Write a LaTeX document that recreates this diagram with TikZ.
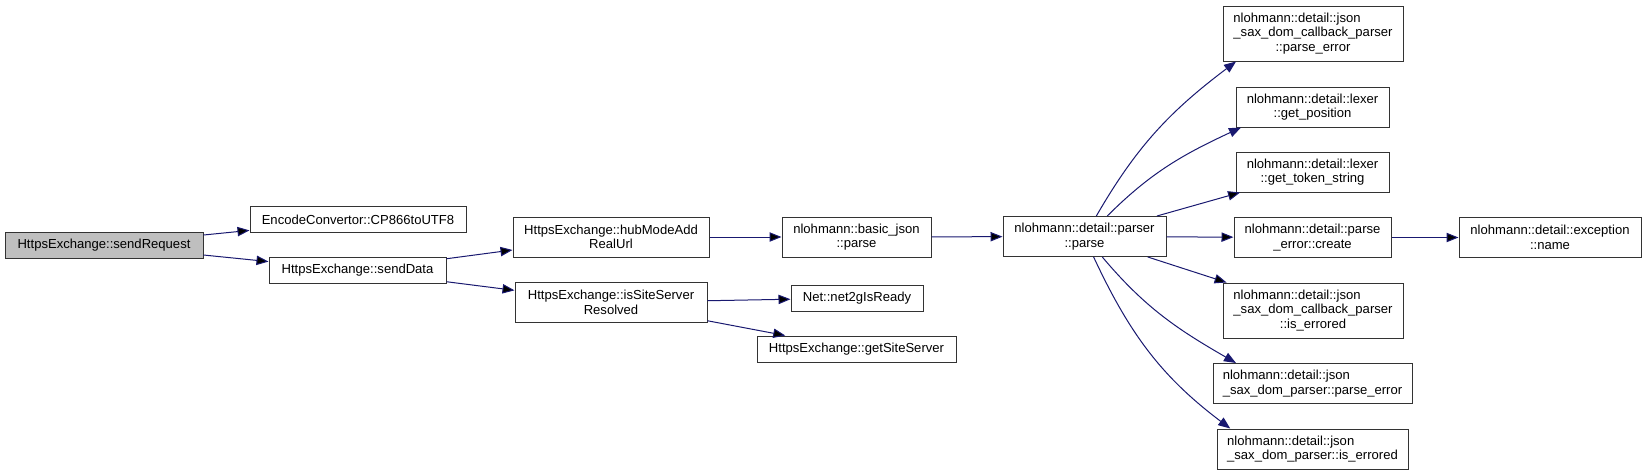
\documentclass[tikz,border=0pt]{standalone}
\usepackage{fontspec}
\setmainfont{Liberation Sans}
\usepackage{calc}
\usepackage{tikz}
\usetikzlibrary{arrows.meta}

\definecolor{callblue}{HTML}{191970}
\definecolor{rootgray}{HTML}{BFBFBF}
\newcommand{\lline}[2]{\makebox[\widthof{#2}][l]{#1}}

\begin{document}
\begin{tikzpicture}[x=0.75pt, y=0.75pt,
  fn/.style={draw=black!80, line width=0.75pt, rectangle, inner sep=0pt, align=center,
             font=\fontsize{9.8pt}{10.9pt}\selectfont},
  boxsize/.style 2 args={minimum width=#1*0.75pt, minimum height=#2*0.75pt},
  call/.style={draw=callblue, line width=0.75pt, -{Triangle[length=9pt, width=7pt]}}]

\useasboundingbox (0,0) rectangle (1647,-475);

\node [fn, boxsize={198}{26}, fill=rootgray] at (104,-245)      (req)         {HttpsExchange::sendRequest};
\node [fn, boxsize={216}{26}             ] at (358,-219.5)    (cp866)       {EncodeConvertor::CP866toUTF8};
\node [fn, boxsize={177}{26}             ] at (357.5,-270.5)  (senddata)    {HttpsExchange::sendData};
\node [fn, boxsize={196}{40}             ] at (611,-237)      (hubmode)     {HttpsExchange::hubModeAdd\\RealUrl};
\node [fn, boxsize={192}{40}             ] at (611,-302.5)    (siteres)     {HttpsExchange::isSiteServer\\Resolved};
\node [fn, boxsize={149}{40}             ] at (856.5,-237)    (jsonparse)   {nlohmann::basic\_json\\::parse};
\node [fn, boxsize={132}{26}             ] at (857,-298)      (net2g)       {Net::net2gIsReady};
\node [fn, boxsize={199}{26}             ] at (856.5,-349)    (getsite)     {HttpsExchange::getSiteServer};
\node [fn, boxsize={163}{40}             ] at (1084.5,-236.5) (parserparse) {nlohmann::detail::parser\\::parse};
\node [fn, boxsize={180}{55}             ] at (1313,-33.5)    (cbparseerr)  {\lline{nlohmann::detail::json}{\_sax\_dom\_callback\_parser}\\\_sax\_dom\_callback\_parser\\::parse\_error};
\node [fn, boxsize={153}{40}             ] at (1312.5,-107)   (getpos)      {nlohmann::detail::lexer\\::get\_position};
\node [fn, boxsize={153}{40}             ] at (1312.5,-172)   (gettoken)    {nlohmann::detail::lexer\\::get\_token\_string};
\node [fn, boxsize={157}{40}             ] at (1312.5,-237.5) (errcreate)   {nlohmann::detail::parse\\\_error::create};
\node [fn, boxsize={180}{55}             ] at (1313,-310.5)   (cberrored)   {\lline{nlohmann::detail::json}{\_sax\_dom\_callback\_parser}\\\_sax\_dom\_callback\_parser\\::is\_errored};
\node [fn, boxsize={199}{40}             ] at (1312.5,-383.5) (saxparseerr) {\lline{nlohmann::detail::json}{\_sax\_dom\_parser::parse\_error}\\\_sax\_dom\_parser::parse\_error};
\node [fn, boxsize={191}{40}             ] at (1312.5,-449)   (saxerrored)  {\lline{nlohmann::detail::json}{\_sax\_dom\_parser::is\_errored}\\\_sax\_dom\_parser::is\_errored};
\node [fn, boxsize={182}{40}             ] at (1550,-237.5)   (excname)     {nlohmann::detail::exception\\::name};

\path [call] (req)         edge (cp866);
\path [call] (req)         edge (senddata);
\path [call] (senddata)    edge (hubmode);
\path [call] (senddata)    edge (siteres);
\path [call] (hubmode)     edge (jsonparse);
\path [call] (jsonparse)   edge (parserparse);
\path [call] (siteres)     edge (net2g);
\path [call] (siteres)     edge (getsite);
\path [call] (parserparse) edge (gettoken);
\path [call] (parserparse) edge (errcreate);
\path [call] (parserparse) edge (cberrored);
\path [call] (errcreate)   edge (excname);

% bent calls out of the parser
\draw [call] (parserparse.60)  to [out=60,  in=217] (cbparseerr.200);
\draw [call] (parserparse.42)  to [out=45,  in=205] (getpos.196);
\draw [call] (parserparse.311) to [out=-50, in=150] (saxparseerr.165);
\draw [call] (parserparse.294) to [out=-65, in=143] (saxerrored.166);

\end{tikzpicture}
\end{document}
